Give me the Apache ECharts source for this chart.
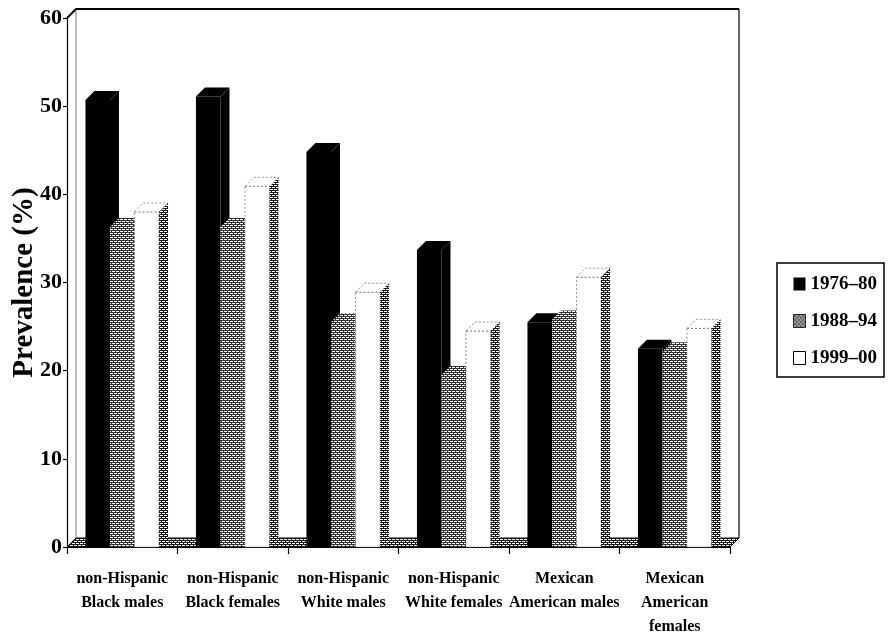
<!DOCTYPE html>
<html>
<head>
<meta charset="utf-8">
<script src="https://cdn.jsdelivr.net/npm/echarts@6/dist/echarts.min.js"></script>
<style>
  html, body { margin: 0; padding: 0; background: #fff; }
  #chart { width: 890px; height: 636px; }
</style>
</head>
<body>
<div id="chart"></div>
<script>
// data
const categories = [
  'non-Hispanic\nBlack males',
  'non-Hispanic\nBlack females',
  'non-Hispanic\nWhite males',
  'non-Hispanic\nWhite females',
  'Mexican\nAmerican males',
  'Mexican\nAmerican\nfemales'
];
const seriesNames = ['1976–80', '1988–94', '1999–00'];
const values7680 = [50.7, 51.1, 44.8, 33.7, 25.5, 22.5];
const values8894 = [36.3, 36.3, 25.5, 19.5, 25.8, 22.2];
const values9900 = [38.0, 40.9, 28.9, 24.5, 30.6, 24.8];
const yTicks = { min: 0, max: 60, interval: 10 };

const FONT = "'Liberation Serif', 'Times New Roman', serif";
const DX = 9, DY = 9; // depth of the fake 3D look

// speckled grey texture like the scanned print
function makePattern(dark) {
  const c = document.createElement('canvas');
  c.width = 4; c.height = 4;
  const g = c.getContext('2d');
  g.fillStyle = '#fff';
  g.fillRect(0, 0, 4, 4);
  g.fillStyle = dark;
  g.fillRect(0, 0, 4, 1);
  g.fillRect(1, 1, 1, 1);
  g.fillRect(0, 2, 4, 1);
  g.fillRect(3, 3, 1, 1);
  return { image: c, repeat: 'repeat' };
}
const grey = makePattern('#333');
const greyDark = makePattern('#1a1a1a');

// front / top / side fills per series
const faces = [
  { front: '#000', top: '#000', side: '#000', stroke: null },
  { front: grey, top: grey, side: greyDark, stroke: null },
  { front: '#fff', top: '#fff', side: greyDark, stroke: '#777' }
];

function barRenderer(k) {
  return function (params, api) {
    const cat = api.value(0);
    const top = api.coord([cat, api.value(1)]);
    const base = api.coord([cat, 0]);
    const band = api.size([1, 0])[0];
    const w = band * 0.222;
    const x0 = top[0] - w * 1.5 + k * w;
    const yT = top[1], y0 = base[1];
    const f = faces[k];
    const lineStyle = f.stroke ? { stroke: f.stroke, lineWidth: 0.8, lineDash: [2, 2] } : {};
    return {
      type: 'group',
      children: [
        {
          type: 'rect',
          shape: { x: x0, y: yT, width: w, height: y0 - yT },
          style: Object.assign({ fill: f.front }, lineStyle)
        },
        {
          type: 'polygon',
          shape: { points: [[x0, yT], [x0 + w, yT], [x0 + w + DX, yT - DY], [x0 + DX, yT - DY]] },
          style: Object.assign({ fill: f.top }, lineStyle)
        },
        {
          type: 'polygon',
          shape: { points: [[x0 + w, yT], [x0 + w + DX, yT - DY], [x0 + w + DX, y0 - DY], [x0 + w, y0]] },
          style: { fill: f.side }
        }
      ]
    };
  };
}

// floor and back walls drawn from the grid rectangle
function frameRenderer(params) {
  const r = params.coordSys;
  const x = r.x, y = r.y, w = r.width, h = r.height;
  return {
    type: 'group',
    children: [
      {
        type: 'polygon',
        shape: { points: [[x, y + h], [x + w, y + h], [x + w + DX, y + h - DY], [x + DX, y + h - DY]] },
        style: { fill: greyDark, stroke: '#000', lineWidth: 1 }
      },
      {
        type: 'polyline',
        shape: { points: [[x, y], [x + DX, y - DY], [x + w + DX, y - DY]] },
        style: { fill: null, stroke: '#000', lineWidth: 2 }
      },
      {
        type: 'polyline',
        shape: { points: [[x + w + DX, y - DY], [x + w + DX, y + h - DY]] },
        style: { fill: null, stroke: '#000', lineWidth: 1.2 }
      },
      {
        type: 'line',
        shape: { x1: x + DX, y1: y - DY, x2: x + DX, y2: y + h - DY },
        style: { stroke: '#555', lineWidth: 0.8 }
      }
    ]
  };
}

const seriesValues = [values7680, values8894, values9900];

const chart = echarts.init(document.getElementById('chart'));
chart.setOption({
  animation: false,
  grid: { left: 67, right: 160, top: 18, bottom: 89, containLabel: false, outerBoundsMode: 'none' },
  legend: {
    orient: 'vertical',
    left: 777,
    top: 263,
    padding: [11, 7, 9, 16],
    itemWidth: 12,
    itemHeight: 13,
    itemGap: 17,
    borderColor: '#000',
    borderWidth: 1.5,
    selectedMode: false,
    textStyle: { fontFamily: FONT, fontWeight: 'bold', fontSize: 19, color: '#000', lineHeight: 20 },
    data: [
      { name: seriesNames[0], icon: 'rect', itemStyle: { color: '#000' } },
      { name: seriesNames[1], icon: 'rect', itemStyle: { color: grey, borderColor: '#000', borderWidth: 0.8 } },
      { name: seriesNames[2], icon: 'rect', itemStyle: { color: '#fff', borderColor: '#000', borderWidth: 1 } }
    ]
  },
  xAxis: {
    type: 'category',
    data: categories,
    axisLine: { lineStyle: { color: '#000', width: 1 } },
    axisTick: { show: true, length: 7, interval: 0, lineStyle: { color: '#000', width: 1.2 } },
    axisLabel: {
      interval: 0,
      margin: 20,
      fontFamily: FONT,
      fontWeight: 'bold',
      fontSize: 16,
      lineHeight: 24,
      color: '#000'
    }
  },
  yAxis: {
    type: 'value',
    min: yTicks.min,
    max: yTicks.max,
    interval: yTicks.interval,
    name: 'Prevalence (%)',
    nameLocation: 'middle',
    nameRotate: 90,
    nameGap: 28,
    nameMoveOverlap: false,
    nameTextStyle: { fontFamily: FONT, fontWeight: 'bold', fontSize: 29, color: '#000' },
    axisLine: { show: true, lineStyle: { color: '#000', width: 1.2 } },
    axisTick: { show: true, length: 4, lineStyle: { color: '#000', width: 1.2 } },
    splitLine: { show: false },
    axisLabel: { margin: 5, fontFamily: FONT, fontWeight: 'bold', fontSize: 22, color: '#000' }
  },
  series: [
    {
      type: 'custom',
      name: 'frame',
      renderItem: frameRenderer,
      data: [[0, 0]],
      silent: true,
      z: 1
    }
  ].concat(seriesNames.map(function (name, k) {
    return {
      type: 'custom',
      name: name,
      renderItem: barRenderer(k),
      encode: { x: 0, y: 1 },
      itemStyle: { color: k === 0 ? '#000' : (k === 1 ? '#888' : '#fff') },
      data: seriesValues[k].map(function (v, i) { return [i, v]; }),
      z: 2 + k
    };
  }))
});
</script>
</body>
</html>
